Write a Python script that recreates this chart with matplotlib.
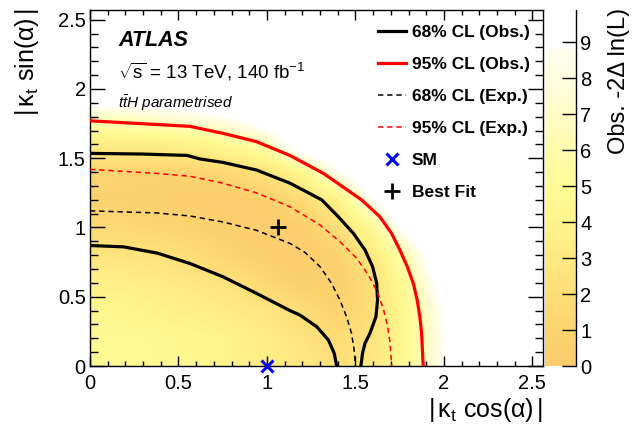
import numpy as np
import matplotlib
matplotlib.use('Agg')
import matplotlib.pyplot as plt
from matplotlib.colors import LinearSegmentedColormap, Normalize
from matplotlib.lines import Line2D
from matplotlib.ticker import MultipleLocator

plt.rcParams['font.family'] = ['Liberation Sans', 'DejaVu Sans']
plt.rcParams['mathtext.fontset'] = 'custom'
plt.rcParams['mathtext.rm'] = 'Liberation Sans'
plt.rcParams['mathtext.it'] = 'Liberation Sans:italic'
plt.rcParams['mathtext.bf'] = 'Liberation Sans:bold'

# ---------------- data ----------------
grid_x = [0.0, 0.2, 0.4, 0.6, 0.8, 1.0, 1.2, 1.4, 1.6, 1.8, 2.0, 2.2, 2.4, 2.6]
grid_y = [0.0, 0.2, 0.4, 0.6, 0.8, 1.0, 1.2, 1.4, 1.6, 1.8, 2.0, 2.2, 2.4, 2.6]
# observed -2 Delta ln(L), rows = grid_y, columns = grid_x
nll_obs = [
    [5.0, 4.9, 4.7, 4.3, 3.9, 3.4, 2.9, 2.3, 2.9, 5.0, 8.7, 11, 12, 12],
    [4.8, 4.8, 4.6, 4.3, 3.8, 3.2, 2.6, 1.7, 2.6, 4.8, 8.8, 11, 12, 12],
    [4.3, 4.3, 3.8, 3.5, 3.1, 2.7, 1.8, 0.9, 2.0, 4.9, 9.0, 11, 12, 12],
    [3.6, 3.5, 3.2, 2.8, 2.4, 1.4, 0.6, 0.5, 2.1, 5.5, 10, 11, 12, 12],
    [2.6, 2.5, 2.3, 1.8, 1.1, 0.5, 0.15, 0.8, 2.9, 6.5, 12, 12, 12, 12],
    [1.6, 1.5, 1.2, 0.9, 0.4, 0.05, 0.4, 2.0, 5.0, 10, 12, 12, 12, 12],
    [0.8, 0.8, 0.5, 0.3, 0.2, 0.5, 1.7, 3.8, 8.7, 12, 12, 12, 12, 12],
    [1.2, 1.1, 1.0, 1.0, 1.5, 2.4, 4.5, 8.5, 12, 12, 12, 12, 12, 12],
    [3.3, 3.4, 3.5, 3.9, 5.0, 6.3, 11, 12, 12, 12, 12, 12, 12, 12],
    [6.9, 7.0, 7.6, 8.2, 9.0, 11, 12, 12, 12, 12, 12, 12, 12, 12],
    [12, 12, 12, 12, 12, 12, 12, 12, 12, 12, 12, 12, 12, 12],
    [12, 12, 12, 12, 12, 12, 12, 12, 12, 12, 12, 12, 12, 12],
    [12, 12, 12, 12, 12, 12, 12, 12, 12, 12, 12, 12, 12, 12],
    [12, 12, 12, 12, 12, 12, 12, 12, 12, 12, 12, 12, 12, 12],
]

obs68_inner_x = [0.0, 0.19, 0.38, 0.565, 0.75, 0.94, 1.13, 1.186, 1.281, 1.347, 1.38, 1.394]
obs68_inner_y = [0.87, 0.86, 0.815, 0.74, 0.645, 0.525, 0.40, 0.368, 0.284, 0.188, 0.092, 0.0]

obs68_outer_x = [0.0, 0.3, 0.55, 0.62, 0.75, 0.94, 1.13, 1.31, 1.403, 1.488, 1.554, 1.597,
                 1.62, 1.625, 1.616, 1.582, 1.554, 1.54, 1.531]
obs68_outer_y = [1.535, 1.53, 1.52, 1.495, 1.47, 1.415, 1.32, 1.199, 1.078, 0.958, 0.838, 0.717,
                 0.597, 0.477, 0.356, 0.236, 0.164, 0.092, 0.0]

obs95_x = [0.0, 0.565, 0.75, 0.94, 1.13, 1.32, 1.535, 1.638, 1.704, 1.751, 1.793, 1.827,
           1.849, 1.864, 1.874, 1.883]
obs95_y = [1.77, 1.73, 1.68, 1.62, 1.52, 1.39, 1.199, 1.078, 0.958, 0.838, 0.717, 0.597,
           0.477, 0.356, 0.236, 0.0]

exp68_x = [0.0, 0.377, 0.565, 0.75, 0.94, 1.13, 1.215, 1.30, 1.365, 1.412, 1.45, 1.478, 1.493, 1.50]
exp68_y = [1.12, 1.105, 1.083, 1.04, 0.98, 0.885, 0.82, 0.717, 0.597, 0.477, 0.356, 0.236, 0.115, 0.0]

exp95_x = [0.0, 0.377, 0.565, 0.75, 0.94, 1.13, 1.30, 1.412, 1.507, 1.573, 1.623, 1.657, 1.68, 1.695, 1.705]
exp95_y = [1.42, 1.39, 1.37, 1.32, 1.25, 1.15, 1.018, 0.898, 0.778, 0.657, 0.537, 0.417, 0.296, 0.175, 0.0]

sm_point = (1.0, 0.0)
best_fit = (1.06, 1.005)

legend_labels = ['68% CL (Obs.)', '95% CL (Obs.)', '68% CL (Exp.)', '95% CL (Exp.)', 'SM', 'Best Fit']
cbar_ticks = [0, 1, 2, 3, 4, 5, 6, 7, 8, 9]
axis_ticks = [0, 0.5, 1, 1.5, 2, 2.5]
axis_ticklabels = ['0', '0.5', '1', '1.5', '2', '2.5']

# ---------------- palette ----------------
zmax = 9.89
pal_vals = [0, 1, 2, 3, 4, 5, 6, 7, 8, 8.86]
pal_cols = ['#FCCC6C', '#FDD470', '#FEDE78', '#FEEA82', '#FFF48C', '#FFFA96',
            '#FFFCAC', '#FFFDC6', '#FFFEE0', '#FFFFF2']
nodes = [(v / zmax, c) for v, c in zip(pal_vals, pal_cols)] + [(8.87 / zmax, '#FFFFFF'), (1.0, '#FFFFFF')]
cmap = LinearSegmentedColormap.from_list('atlas_pal', nodes)
cmap.set_over('white')
norm = Normalize(0, zmax)

fs = 14.5
fig = plt.figure(figsize=(6.38, 4.26), dpi=100)
ax = fig.add_axes([90 / 638, 60 / 426, 453 / 638, 356 / 426])

dx = grid_x[1] - grid_x[0]
ax.imshow(np.array(nll_obs), origin='lower',
          extent=[grid_x[0] - dx / 2, grid_x[-1] + dx / 2, grid_y[0] - dx / 2, grid_y[-1] + dx / 2],
          cmap=cmap, norm=norm, interpolation='bilinear', interpolation_stage='data',
          aspect='auto', zorder=0)

ax.plot(obs68_inner_x, obs68_inner_y, color='black', lw=2.3, solid_joinstyle='round', zorder=3)
ax.plot(obs68_outer_x, obs68_outer_y, color='black', lw=2.3, solid_joinstyle='round', zorder=3)
ax.plot(obs95_x, obs95_y, color='#FF0000', lw=2.3, solid_joinstyle='round', zorder=3)
ax.plot(exp68_x, exp68_y, color='black', lw=1.1, dashes=(3.5, 2.5), zorder=3)
ax.plot(exp95_x, exp95_y, color='#FF0000', lw=1.1, dashes=(3.5, 2.5), zorder=3)
ax.plot([sm_point[0]], [sm_point[1]], marker='x', color='#0000FF', ms=8, mew=2.2, ls='none', zorder=5, clip_on=False)
ax.plot([best_fit[0]], [best_fit[1]], marker='+', color='black', ms=12, mew=2.0, ls='none', zorder=5)

ax.set_xlim(0, 2.56)
ax.set_ylim(0, 2.57)
ax.set_xticks(axis_ticks)
ax.set_yticks(axis_ticks)
ax.set_xticklabels(axis_ticklabels)
ax.set_yticklabels(axis_ticklabels)
ax.xaxis.set_minor_locator(MultipleLocator(0.1))
ax.yaxis.set_minor_locator(MultipleLocator(0.1))
ax.tick_params(axis='both', which='both', direction='in', top=True, right=True, labelsize=fs, width=1.0)
ax.tick_params(axis='y', which='major', length=11, pad=3)
ax.tick_params(axis='y', which='minor', length=6)
ax.tick_params(axis='x', which='major', length=7, pad=6)
ax.tick_params(axis='x', which='minor', length=3.5)
for s in ax.spines.values():
    s.set_linewidth(1.0)

# legend
handles = [
    Line2D([], [], color='black', lw=2.3),
    Line2D([], [], color='#FF0000', lw=2.3),
    Line2D([], [], color='black', lw=1.1, dashes=(3.5, 2.5)),
    Line2D([], [], color='#FF0000', lw=1.1, dashes=(3.5, 2.5)),
    Line2D([], [], color='#0000FF', marker='x', ms=8, mew=2.2, ls='none'),
    Line2D([], [], color='black', marker='+', ms=12, mew=2.0, ls='none'),
]
leg = ax.legend(handles, legend_labels, loc='upper right', bbox_to_anchor=(530 / 638, 1 - 25 / 426),
                bbox_transform=fig.transFigure, frameon=False, prop={'weight': 'bold', 'size': 12.5},
                handlelength=1.6, handletextpad=0.35, labelspacing=0.97, borderpad=0, borderaxespad=0)

# texts
fig.text(118 / 638, 1 - 40 / 426, 'ATLAS', fontsize=fs + 1, fontweight='bold', fontstyle='italic', va='center', ha='left')
fig.text(118 / 638, 1 - 72 / 426, r'$\sqrt{\mathregular{s}}$ = 13 TeV, 140 fb$^{\mathregular{-1}}$', fontsize=13.5, va='center', ha='left')
fig.text(118 / 638, 1 - 103 / 426, r'$t\bar{t}H$ parametrised', fontsize=11, fontstyle='italic', va='center', ha='left')

fig.text(543 / 638, 1 - 410 / 426, r'$|\,\mathregular{\kappa_t}\ \mathregular{cos(\alpha)}\,|$', fontsize=18, ha='right', va='center')
fig.text(27 / 638, 1 - 8 / 426, r'$|\,\mathregular{\kappa_t}\ \mathregular{sin(\alpha)}\,|$', fontsize=18, ha='center', va='top', rotation=90)

# colour bar
cax = fig.add_axes([545 / 638, 60 / 426, 31 / 638, 356 / 426])
cax.imshow(np.linspace(0, zmax, 400).reshape(-1, 1), origin='lower', extent=[0, 1, 0, zmax],
           cmap=cmap, norm=norm, aspect='auto')
cax.set_xlim(0, 1)
cax.set_ylim(0, zmax)
cax.set_xticks([])
cax.yaxis.tick_right()
cax.set_yticks(cbar_ticks)
cax.tick_params(axis='y', direction='in', length=10, width=1.0, labelsize=fs, pad=3)
for k in ['left', 'top', 'bottom']:
    cax.spines[k].set_visible(False)
cax.spines['right'].set_linewidth(1.0)
fig.text(619 / 638, 1 - 8 / 426, 'Obs. -2Δ ln(L)', fontsize=17, rotation=90, ha='center', va='top')

fig.savefig('out.png', dpi=100)
